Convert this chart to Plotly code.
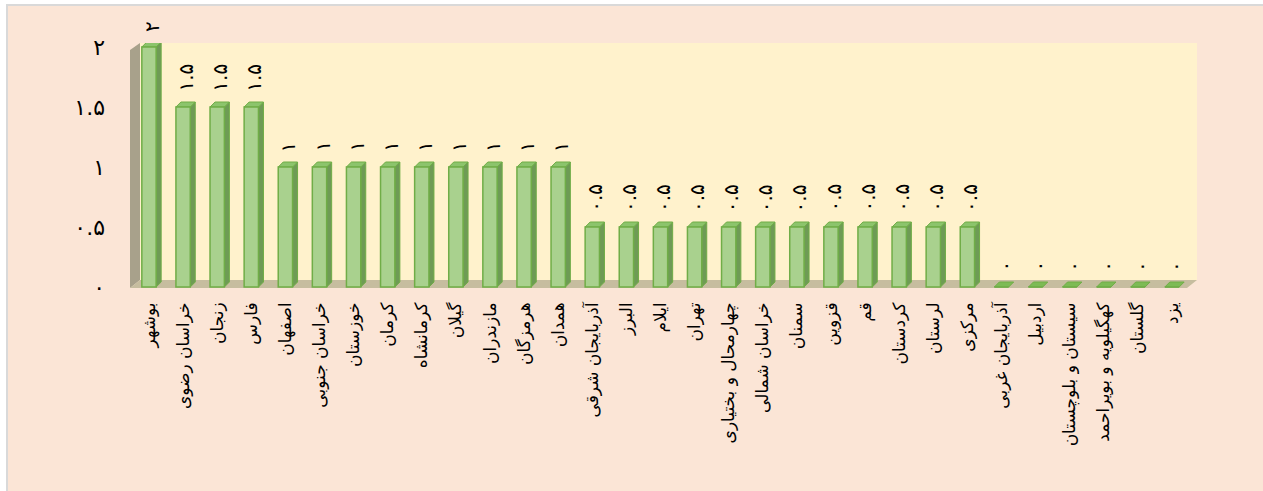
import plotly.graph_objects as go

# Provinces and their scores
provinces = [
    "بوشهر", "خراسان رضوی", "زنجان", "فارس", "اصفهان", "خراسان جنوبی",
    "خوزستان", "کرمان", "کرمانشاه", "گیلان", "مازندران", "هرمزگان", "همدان",
    "آذربایجان شرقی", "البرز", "ایلام", "تهران", "چهارمحال و بختیاری",
    "خراسان شمالی", "سمنان", "قزوین", "قم", "کردستان", "لرستان", "مرکزی",
    "آذربایجان غربی", "اردبیل", "سیستان و بلوچستان", "کهگیلویه و بویراحمد",
    "گلستان", "یزد",
]
values = [
    2, 1.5, 1.5, 1.5,
    1, 1, 1, 1, 1, 1, 1, 1, 1,
    0.5, 0.5, 0.5, 0.5, 0.5, 0.5, 0.5, 0.5, 0.5, 0.5, 0.5, 0.5,
    0, 0, 0, 0, 0, 0,
]
y_ticks = [0, 0.5, 1, 1.5, 2]

FA_DIGITS = str.maketrans("0123456789", "۰۱۲۳۴۵۶۷۸۹")


def fa(v):
    s = f"{v:g}"
    return s.translate(FA_DIGITS)


W, H = 1263, 491
ML, MR, MT, MB = 130, 66, 43, 203
PW, PH = W - ML - MR, H - MT - MB

X_RANGE = [-0.557, 30.733]
Y_RANGE = [-1 / 120, (287 - 43) / 120]
px_x = (X_RANGE[1] - X_RANGE[0]) / PW   # data units per pixel (x)
px_y = (Y_RANGE[1] - Y_RANGE[0]) / PH   # data units per pixel (y)


def paper_x(px):
    return (px - ML) / PW


def paper_y(py):
    return (MT + PH - py) / PH


BAR_W = 0.42
DX = 5 * px_x      # bar depth offset
DY = 5 * px_y

FRONT = "#A9D18E"
EDGE = "#70AD47"
SIDE = "#6E9B55"
TOP = "#8CC46C"

shapes = []

# outer chart area with thin grey frame
shapes.append(dict(type="rect", xref="paper", yref="paper",
                   x0=paper_x(7), x1=paper_x(W + 10), y0=paper_y(H + 10), y1=paper_y(5),
                   fillcolor="#FBE5D6", line=dict(color="#D9D9D9", width=2), layer="below"))

# back wall
shapes.append(dict(type="rect", xref="paper", yref="paper",
                   x0=paper_x(140), x1=paper_x(1197), y0=paper_y(280), y1=paper_y(43),
                   fillcolor="#FFF2CC", line=dict(width=0), layer="below"))


def ppath(points):
    return "M " + " L ".join(f"{paper_x(a):.5f},{paper_y(b):.5f}" for a, b in points) + " Z"


# left wall
shapes.append(dict(type="path", xref="paper", yref="paper",
                   path=ppath([(130, 50), (140, 43), (140, 280), (130, 288)]),
                   fillcolor="#A8A18B", line=dict(width=0), layer="below"))
# floor
shapes.append(dict(type="path", xref="paper", yref="paper",
                   path=ppath([(130, 288), (140, 280), (1197, 280), (1187, 288)]),
                   fillcolor="#C6BD9F", line=dict(width=0), layer="below"))


def dpath(points):
    return "M " + " L ".join(f"{a:.5f},{b:.5f}" for a, b in points) + " Z"


# side and top faces of each bar
for i, v in enumerate(values):
    xl, xr = i - BAR_W / 2, i + BAR_W / 2
    if v > 0:
        shapes.append(dict(type="path", xref="x", yref="y",
                           path=dpath([(xr, 0), (xr + DX, DY), (xr + DX, v + DY), (xr, v)]),
                           fillcolor=SIDE, line=dict(color=EDGE, width=1), layer="below"))
    shapes.append(dict(type="path", xref="x", yref="y",
                       path=dpath([(xl, v), (xl + DX, v + DY), (xr + DX, v + DY), (xr, v)]),
                       fillcolor=TOP if v > 0 else "#7DBB55",
                       line=dict(color=EDGE, width=1), layer="below"))

# value labels above the bars
annotations = []
for i, v in enumerate(values):
    annotations.append(dict(x=i + DX / 2, y=v, xref="x", yref="y",
                            text=fa(v), textangle=-90, showarrow=False,
                            xanchor="center", yanchor="bottom", yshift=13,
                            font=dict(family="DejaVu Sans", size=20, color="#000000")))

fig = go.Figure(go.Bar(
    x=list(range(len(values))), y=values, width=BAR_W,
    marker=dict(color=FRONT, line=dict(color=EDGE, width=1.5)),
    hoverinfo="skip",
))

fig.update_layout(
    width=W, height=H,
    margin=dict(l=ML, r=MR, t=MT, b=MB, pad=0),
    paper_bgcolor="#FFFFFF",
    plot_bgcolor="rgba(0,0,0,0)",
    showlegend=False,
    shapes=shapes,
    annotations=annotations,
    font=dict(family="DejaVu Sans", color="#000000"),
    xaxis=dict(range=X_RANGE, tickmode="array",
               tickvals=list(range(len(provinces))), ticktext=provinces,
               tickangle=-90, showgrid=False, zeroline=False, showline=False,
               ticks="", ticklabelstandoff=10,
               tickfont=dict(family="DejaVu Sans", size=17, color="#000000")),
    yaxis=dict(range=Y_RANGE, tickmode="array",
               tickvals=y_ticks, ticktext=[fa(t) for t in y_ticks],
               showgrid=False, zeroline=False, showline=False,
               ticks="", ticklabelstandoff=24,
               tickfont=dict(family="DejaVu Sans", size=22, color="#000000")),
)

fig.write_html("out.html")
